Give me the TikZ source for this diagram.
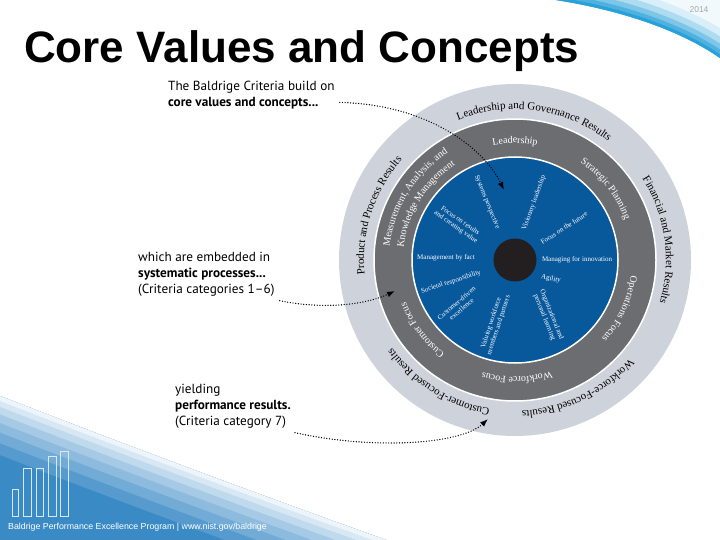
\documentclass[tikz,border=0pt]{standalone}
\usepackage{fontspec}
\setmainfont{Liberation Serif}
\setsansfont{Liberation Sans}
\newfontfamily\notefont{PT Sans}
\usetikzlibrary{arrows.meta,decorations.text}
\definecolor{ringlight}{RGB}{206,211,219}
\definecolor{ringdark}{RGB}{108,109,112}
\definecolor{corecolor}{RGB}{8,88,156}
\definecolor{hubcolor}{RGB}{35,31,32}
\definecolor{swoosh}{RGB}{40,160,216}
\definecolor{footblue}{RGB}{58,138,198}
\newcommand\resfont{\fontsize{11}{12}\selectfont}
\newcommand\catfont{\fontsize{10}{11}\selectfont}
\begin{document}
\begin{tikzpicture}[x=1pt,y=1pt,
    every node/.style={inner sep=0pt},
    valuetext/.style={text=white, font=\fontsize{7}{7.8}\selectfont, align=center},
    note/.style={anchor=north west, align=left, font=\notefont\fontsize{13.2}{16}\selectfont},
    pointer/.style={line width=1.4pt, dash pattern=on 0pt off 2.7pt, line cap=round, -{Latex[length=8pt,width=6pt]}},
    ringtext/.style={decorate, decoration={text along path, text align=center}},
    bar/.style={draw=white!80!footblue, line width=1pt}]
\useasboundingbox (0,0) rectangle (720,-540);
\clip (0,0) rectangle (720,-540);
% swoosh top right
\begin{scope}
    \clip (556,0) .. controls (620,-10) and (680,-30) .. (720,-58) -- (720,0) -- cycle;
    \fill[swoosh!6] (540,0) rectangle (720,-60);
    \draw[swoosh!18, line width=50] (556,0) .. controls (620,-10) and (680,-30) .. (720,-58);
    \draw[swoosh!38, line width=36] (556,0) .. controls (620,-10) and (680,-30) .. (720,-58);
    \draw[swoosh!60, line width=24] (556,0) .. controls (620,-10) and (680,-30) .. (720,-58);
    \draw[swoosh!82, line width=14] (556,0) .. controls (620,-10) and (680,-30) .. (720,-58);
    \draw[swoosh, line width=6] (556,0) .. controls (620,-10) and (680,-30) .. (720,-58);
\end{scope}
% fade bottom left
\begin{scope}
    \clip (0,-396) .. controls (120,-443) and (260,-495) .. (400,-545) -- (0,-545) -- cycle;
    \fill[footblue] (0,-380) rectangle (420,-545);
    \draw[footblue!86, line width=110] (0,-396) .. controls (120,-443) and (260,-495) .. (400,-545);
    \draw[footblue!72, line width=88] (0,-396) .. controls (120,-443) and (260,-495) .. (400,-545);
    \draw[footblue!58, line width=68] (0,-396) .. controls (120,-443) and (260,-495) .. (400,-545);
    \draw[footblue!45, line width=50] (0,-396) .. controls (120,-443) and (260,-495) .. (400,-545);
    \draw[footblue!32, line width=34] (0,-396) .. controls (120,-443) and (260,-495) .. (400,-545);
    \draw[footblue!20, line width=20] (0,-396) .. controls (120,-443) and (260,-495) .. (400,-545);
    \draw[footblue!9, line width=9] (0,-396) .. controls (120,-443) and (260,-495) .. (400,-545);
\end{scope}
\draw[bar] (12,-516) rectangle (18,-489);
\draw[bar] (23,-516) rectangle (31,-468);
\draw[bar] (36,-516) rectangle (43,-468);
\draw[bar] (48,-516) rectangle (56,-456);
\draw[bar] (60,-516) rectangle (68,-451);
\node[anchor=west, text=white, font=\sffamily\fontsize{8.8}{10}\selectfont] (foot) at (8,-527) {Baldrige Performance Excellence Program | www.nist.gov/baldrige};
\node[anchor=base west, font=\sffamily\bfseries\fontsize{44}{50}\selectfont] (title) at (24,-63) {Core Values and Concepts};
\node[text=gray!70, font=\sffamily\fontsize{8.5}{10}\selectfont] (year) at (699,-10) {2014};
% the wheel
\begin{scope}[shift={(515,-260)}]
    \fill[ringlight] (0,0) circle (176);
    \draw[white, line width=1.5pt, fill=ringdark] (0,0) circle (141);
    \draw[white, line width=1.5pt, fill=corecolor] (0,0) circle (103);
    \fill[hubcolor] (0,0) circle (21.5);
    % results
    \path[ringtext, decoration={text={|\resfont|Leadership and Governance Results}}] (120:151) arc[start angle=120, end angle=44, radius=151];
    \path[ringtext, decoration={text={|\resfont|Financial and Market Results}}] (40:151) arc[start angle=40, end angle=-24, radius=151];
    \path[ringtext, decoration={text={|\resfont|Workforce-Focused Results}}] (-30:151) arc[start angle=-30, end angle=-98, radius=151];
    \path[ringtext, decoration={text={|\resfont|Customer-Focused Results}}] (-90:151) arc[start angle=-90, end angle=-154, radius=151];
    \path[ringtext, decoration={text={|\resfont|Product and Process Results}}] (196:151) arc[start angle=196, end angle=128, radius=151];
    % categories
    \path[ringtext, decoration={text color=white, text={|\catfont|Leadership}}] (110:117) arc[start angle=110, end angle=70, radius=117];
    \path[ringtext, decoration={text color=white, text={|\catfont|Strategic Planning}}] (65:117) arc[start angle=65, end angle=11, radius=117];
    \path[ringtext, decoration={text color=white, text={|\catfont|Operations Focus}}] (5:117) arc[start angle=5, end angle=-55, radius=117];
    \path[ringtext, decoration={text color=white, text={|\catfont|Workforce Focus}}] (-65:117) arc[start angle=-65, end angle=-113, radius=117];
    \path[ringtext, decoration={text color=white, text={|\catfont|Customer Focus}}] (-115:117) arc[start angle=-115, end angle=-171, radius=117];
    \path[ringtext, decoration={text color=white, text={|\catfont|Measurement, Analysis, and}}] (178:126) arc[start angle=178, end angle=118, radius=126];
    \path[ringtext, decoration={text color=white, text={|\catfont|Knowledge Management}}] (178:112) arc[start angle=178, end angle=118, radius=112];
\end{scope}
% core values
\node[valuetext, rotate=-68] (systems) at (487,-202) {Systems perspective};
\node[valuetext, rotate=70] (visionary) at (534,-203) {Visionary leadership};
\node[valuetext, rotate=33] (future) at (564,-228) {Focus on the future};
\node[valuetext] (innovation) at (577,-260) {Managing for innovation};
\node[valuetext, rotate=-12] (agility) at (551,-279) {Agility};
\node[valuetext, rotate=-68] (learning) at (548,-316) {Organizational and\\personal learning};
\node[valuetext, rotate=72] (workforce) at (495,-324) {Valuing workforce\\members and partners};
\node[valuetext, rotate=40] (customer) at (459,-306) {Customer-driven\\excellence};
\node[valuetext, rotate=18] (societal) at (451,-282) {Societal responsibility};
\node[valuetext] (fact) at (446,-258) {Management by fact};
\node[valuetext, rotate=-35] (results) at (458,-224) {Focus on results\\and creating value};
% notes
\node[note] (build) at (168,-81) {The Baldrige Criteria build on\\\textbf{core values and concepts...}};
\node[note] (embed) at (138,-252) {which are embedded in\\\textbf{systematic processes...}\\(Criteria categories 1–6)};
\node[note] (yield) at (175,-384) {yielding\\\textbf{performance results.}\\(Criteria category 7)};
\coordinate (valuetip) at (504,-190);
\coordinate (processtip) at (395,-291);
\coordinate (resulttip) at (488,-419);
\draw[pointer] ([shift={(5,7)}]build.south east) .. controls +(90,-2) and (485,-150) .. (valuetip);
\draw[pointer] ([shift={(5,-4)}]embed.south east) .. controls +(43,-9) and (365,-305) .. (processtip);
\draw[pointer] ([shift={(4,-4)}]yield.south east) .. controls +(76,-17) and (460,-445) .. (resulttip);
\end{tikzpicture}
\end{document}
